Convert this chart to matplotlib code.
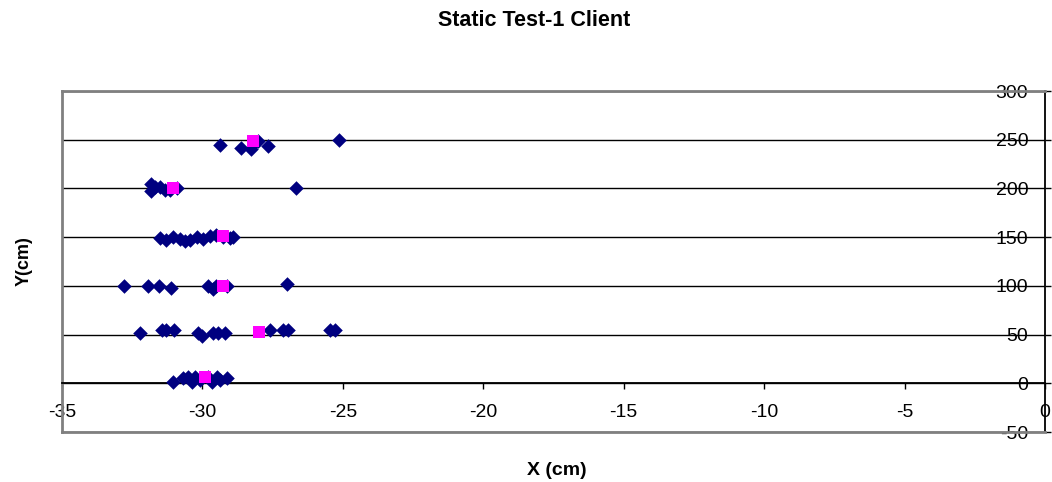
import matplotlib.pyplot as plt

plt.rcParams['font.family'] = ['Liberation Sans', 'DejaVu Sans']
plt.rcParams['axes.unicode_minus'] = False

# measured points (navy diamonds)
x_pts = [-29.38, -28.63, -28.28, -28.02, -27.68, -28.15, -25.13,
         -31.84, -31.84, -31.69, -31.51, -31.33, -31.16, -30.92, -26.68,
         -31.51, -31.28, -31.04, -30.80, -30.62, -30.44, -30.20, -29.97,
         -29.73, -29.50, -29.26, -29.02, -28.91,
         -32.79, -31.95, -31.54, -31.10, -29.79, -29.63, -29.50, -29.14, -26.97,
         -32.22, -31.45, -31.28, -31.01, -30.15, -30.03, -29.61, -29.44,
         -29.20, -27.60, -27.14, -26.94, -25.46, -25.28,
         -31.06, -30.68, -30.50, -30.38, -30.27, -30.09, -29.79, -29.67,
         -29.49, -29.38, -29.14]
y_pts = [245, 242, 240, 249, 244, 247, 250,
         205, 197, 201, 201, 198, 198, 200, 200,
         149, 147, 150, 148, 146, 147, 150, 148,
         151, 152, 150, 149, 150,
         100, 100, 100, 98, 100, 97, 100, 100, 102,
         52, 55, 55, 55, 52, 49, 52, 52,
         52, 55, 55, 55, 55, 55,
         1, 5, 6, 1, 6, 3, 6, 1,
         6, 3, 5]

# average per position (magenta squares)
x_avg = [-28.20, -31.06, -29.26, -29.28, -27.99, -29.91]
y_avg = [249, 200, 151, 100, 53, 6]

xticks = [-35, -30, -25, -20, -15, -10, -5, 0]
yticks = [-50, 0, 50, 100, 150, 200, 250, 300]

fig = plt.figure(figsize=(10.52, 4.82), dpi=100)
ax = fig.add_axes([0.0589, 0.1037, 0.9344, 0.7075])

ax.scatter(x_pts, y_pts, marker='D', s=55, color='#000080', linewidths=0, zorder=3)
ax.scatter(x_avg, y_avg, marker='s', s=72, color='#FF00FF', linewidths=0, zorder=4)

ax.set_xlim(-35, 0)
ax.set_ylim(-50, 300)
ax.set_xticks(xticks)
ax.set_yticks(yticks)
ax.yaxis.grid(True, color='black', linewidth=1.0)
ax.set_axisbelow(True)

# frame: gray plot area, black axes through x=0 and y=0
for side in ['left', 'top']:
    ax.spines[side].set_color('gray')
    ax.spines[side].set_linewidth(2)
ax.spines['right'].set_color('black')
ax.spines['right'].set_linewidth(1.3)
ax.spines['bottom'].set_position(('data', 0))
ax.spines['bottom'].set_color('black')
ax.spines['bottom'].set_linewidth(1.3)
ax.axhline(-50, color='gray', linewidth=2, clip_on=False, zorder=2.6)

ax.tick_params(axis='x', direction='out', length=4, width=1, pad=11, labelsize=14)
ax.tick_params(axis='y', left=False, right=True, labelleft=False, labelright=True,
               direction='out', length=4, width=1, pad=-16, labelsize=14)
for lab in ax.get_yticklabels():
    lab.set_horizontalalignment('right')

ax.set_title('Static Test-1 Client', fontsize=15.5, fontweight='bold', x=0.48, y=1.19, pad=0)
ax.set_xlabel('X (cm)', fontsize=14, fontweight='bold')
ax.xaxis.set_label_coords(0.5036, -0.088)
ax.set_ylabel('Y(cm)', fontsize=13, fontweight='bold')
ax.yaxis.set_label_coords(-0.03, 0.5)

fig.savefig('out.png', dpi=100)
